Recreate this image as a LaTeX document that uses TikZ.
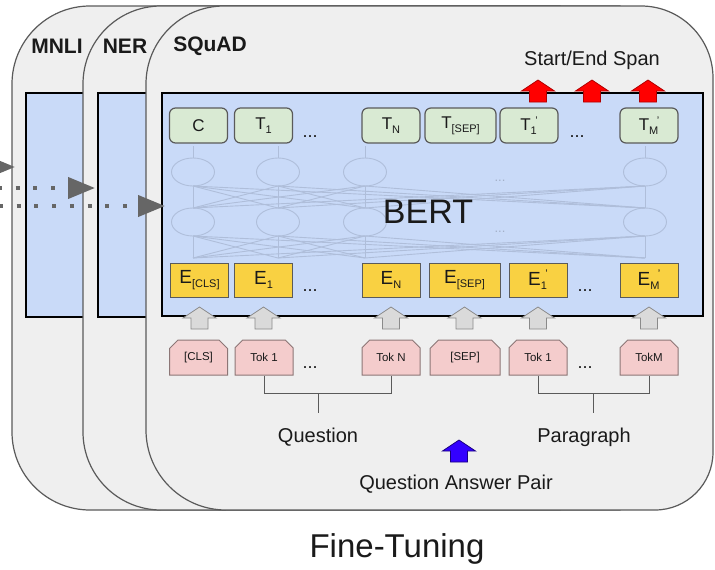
\documentclass[tikz,border=0pt]{standalone}
\usepackage{fontspec}
\setmainfont{Liberation Sans}
\usetikzlibrary{shapes.misc,calc,arrows.meta}

\definecolor{cardfill}{HTML}{EFEFEF}
\definecolor{cardline}{HTML}{5A5A5A}
\definecolor{panelfill}{HTML}{C9DAF8}
\definecolor{greenfill}{HTML}{D9EAD3}
\definecolor{yellowfill}{HTML}{F9D142}
\definecolor{pinkfill}{HTML}{F4CCCC}
\definecolor{pinkline}{HTML}{8C7676}
\definecolor{nnline}{HTML}{AFBEDA}
\definecolor{nndots}{HTML}{A3B0C8}
\definecolor{arrgray}{HTML}{DADADA}
\definecolor{arrgrayline}{HTML}{8A8A8A}
\definecolor{dotgray}{HTML}{666666}
\definecolor{redarr}{HTML}{FF0000}
\definecolor{redline}{HTML}{B00000}
\definecolor{bluearr}{HTML}{3300FF}
\definecolor{blueline}{HTML}{1A0080}
\definecolor{txt}{HTML}{1A1A1A}

\newcommand{\lsub}[1]{\raisebox{-0.42ex}{\fontsize{11}{11}\selectfont #1}}
\newcommand{\lsubp}[1]{\raisebox{-0.42ex}{\fontsize{11}{11}\selectfont #1}\kern-1.5pt\raisebox{0.75ex}{\fontsize{11}{11}\selectfont '}}

\tikzset{
  card/.style={draw=cardline, line width=1.2pt, fill=cardfill},
  panel/.style={draw=black, line width=2.6pt, fill=panelfill},
  tasktitle/.style={font=\fontsize{21}{21}\selectfont\bfseries, text=txt, inner sep=0pt},
  gnode/.style={draw=cardline, line width=1.2pt, fill=greenfill, rounded corners=6pt,
    minimum width=58pt, minimum height=35pt, inner sep=0pt, text=txt,
    font=\fontsize{17}{17}\selectfont},
  ynode/.style={draw=cardline, line width=1pt, fill=yellowfill,
    minimum width=58pt, minimum height=34pt, inner sep=0pt, text=txt,
    font=\fontsize{19}{19}\selectfont},
  pnode/.style={chamfered rectangle, chamfered rectangle corners={north west,north east},
    chamfered rectangle xsep=5pt, draw=pinkline, line width=1pt, fill=pinkfill,
    minimum width=58pt, minimum height=35pt, inner sep=0pt, text=txt,
    font=\fontsize{11.5}{11.5}\selectfont},
  dotsnode/.style={anchor=base, inner sep=0pt, text=txt, font=\fontsize{18}{18}\selectfont},
  label/.style={inner sep=0pt, text=txt, font=\fontsize{20}{20}\selectfont},
  nn/.style={draw=nnline, line width=0.9pt},
  bracket/.style={draw=cardline, line width=1pt},
  dotarrow/.style={draw=dotgray, line width=4pt, dash pattern=on 4pt off 13.7pt,
    -{Triangle[length=27pt,width=21pt,fill=dotgray]}},
  blockup/.pic={
    \path[pic actions] (0,0) -- (16.5,11) -- (8.5,11) -- (8.5,22) -- (-8.5,22)
      -- (-8.5,11) -- (-16.5,11) -- cycle;
  },
  grayup/.style={fill=arrgray, draw=arrgrayline, line width=0.8pt},
  redup/.style={fill=redarr, draw=redline, line width=0.8pt},
  blueup/.style={fill=bluearr, draw=blueline, line width=0.8pt},
}

\begin{document}
\begin{tikzpicture}[x=1pt, y=-1pt]
\useasboundingbox (0,0) rectangle (715,570);
\fill[white] (0,0) rectangle (715,570);

% ---- MNLI card
\path[card] (12,84) arc[start angle=180,end angle=270,radius=78] -- (560,6)
  -- (560,510) -- (90,510) arc[start angle=90,end angle=180,radius=78] -- cycle;
\path[panel] (26,93) rectangle (400,317);
\node[tasktitle] (mnli) at (57,46) {MNLI};

% ---- NER card
\path[card] (83,84) arc[start angle=180,end angle=270,radius=78] -- (620,6)
  -- (620,510) -- (161,510) arc[start angle=90,end angle=180,radius=78] -- cycle;
\path[panel] (98,93) rectangle (450,317);
\node[tasktitle] (ner) at (125,46) {NER};

% ---- SQuAD card
\path[card] (146,84) arc[start angle=180,end angle=270,radius=78] -- (641,6)
  arc[start angle=270,end angle=360,radius=72] -- (713,452)
  arc[start angle=0,end angle=90,radius=58] -- (226,510)
  arc[start angle=90,end angle=180,radius=80] -- cycle;
\node[tasktitle] (squad) at (210,46) {SQuAD};
\path[panel] (162,93) rectangle (703,316);

% ---- faint transformer network
\foreach \xa in {193,278,365,645}{
  \foreach \xb in {193,278,365,645}{
    \draw[nn] (\xa,186) -- (\xb,208);
    \draw[nn] (\xa,236) -- (\xb,258);
  }
  \draw[nn] (\xa,146) -- (\xa,158);
  \draw[nn] (\xa,172) ellipse[x radius=21.5, y radius=14];
  \draw[nn] (\xa,222) ellipse[x radius=21.5, y radius=14];
}
\node[inner sep=0pt, text=nndots, font=\fontsize{13}{13}\selectfont] (nnd1) at (500,181) {...};
\node[inner sep=0pt, text=nndots, font=\fontsize{13}{13}\selectfont] (nnd2) at (500,232) {...};
\node[inner sep=0pt, text=txt, font=\fontsize{34}{34}\selectfont] (bert) at (428,212) {BERT};

% ---- output row
\node[gnode] (tc)   at (198.5,125.5) {C};
\node[gnode] (t1)   at (263.5,125.5) {T\lsub{1}};
\node[dotsnode] (td1) at (310,137) {...};
\node[gnode] (tn)   at (391,125.5) {T\lsub{N}};
\node[gnode, minimum width=71pt] (tsep) at (460.5,125.5) {T\lsub{[SEP]}};
\node[gnode] (t1p)  at (529,125.5) {T\lsubp{1}};
\node[dotsnode] (td2) at (577,137) {...};
\node[gnode] (tmp)  at (649,125.5) {T\lsubp{M}};

% ---- embedding row
\node[ynode] (ecls) at (199.5,280) {E\lsub{[CLS]}};
\node[ynode] (e1)   at (263.5,280) {E\lsub{1}};
\node[dotsnode] (ed1) at (310,291) {...};
\node[ynode] (en)   at (391,280) {E\lsub{N}};
\node[ynode, minimum width=71pt] (esep) at (464.5,280) {E\lsub{[SEP]}};
\node[ynode] (e1p)  at (538,280) {E\lsubp{1}};
\node[dotsnode] (ed2) at (585,291) {...};
\node[ynode] (emp)  at (649,280) {E\lsubp{M}};

% ---- token row
\node[pnode] (kcls) at (198.5,357.5) {[CLS]};
\node[pnode] (k1)   at (264,357.5) {Tok 1};
\node[dotsnode] (kd1) at (310,368) {...};
\node[pnode] (kn)   at (391,357.5) {Tok N};
\node[pnode, minimum width=70pt] (ksep) at (465,357.5) {[SEP]};
\node[pnode] (k1p)  at (538,357.5) {Tok 1};
\node[dotsnode] (kd2) at (585,368) {...};
\node[pnode] (kmp)  at (649,357.5) {TokM};

% ---- gray block arrows (token -> embedding)
\foreach \ax in {199.5,263.5,391,464.5,538,649}{
  \pic[grayup] at (\ax,307) {blockup};
}

% ---- red block arrows (span outputs)
\node[label] (span) at (592,60) {Start/End Span};
\foreach \ax in {538,592,648}{
  \pic[redup] at (\ax,80) {blockup};
}

% ---- brackets
\coordinate (qstem) at (318,413);
\coordinate (pstem) at (593,413);
\draw[bracket] (k1.south) |- ++(63.5,18) -| (kn.south);
\draw[bracket] (318,393) -- (qstem);
\draw[bracket] (k1p.south) |- ++(55,18) -| (kmp.south);
\draw[bracket] (593,393) -- (pstem);

\node[label] (question) at (318,437) {Question};
\node[label] (paragraph) at (584,437) {Paragraph};
\pic[blueup] at (459,440) {blockup};
\node[label] (qapair) at (456,484) {Question Answer Pair};

\node[inner sep=0pt, text=txt, font=\fontsize{33}{33}\selectfont] (finetune) at (397,549) {Fine-Tuning};

% ---- dotted arrows coming from the left
\coordinate (s1) at (-60,167);
\coordinate (f1) at (15,167);
\coordinate (s2) at (-2,188);
\coordinate (f2) at (95,188);
\coordinate (s3) at (-1,206);
\coordinate (f3) at (165,206);
\draw[dotarrow] (s1) -- (f1);
\draw[dotarrow] (s2) -- (f2);
\draw[dotarrow] (s3) -- (f3);
\end{tikzpicture}
\end{document}
